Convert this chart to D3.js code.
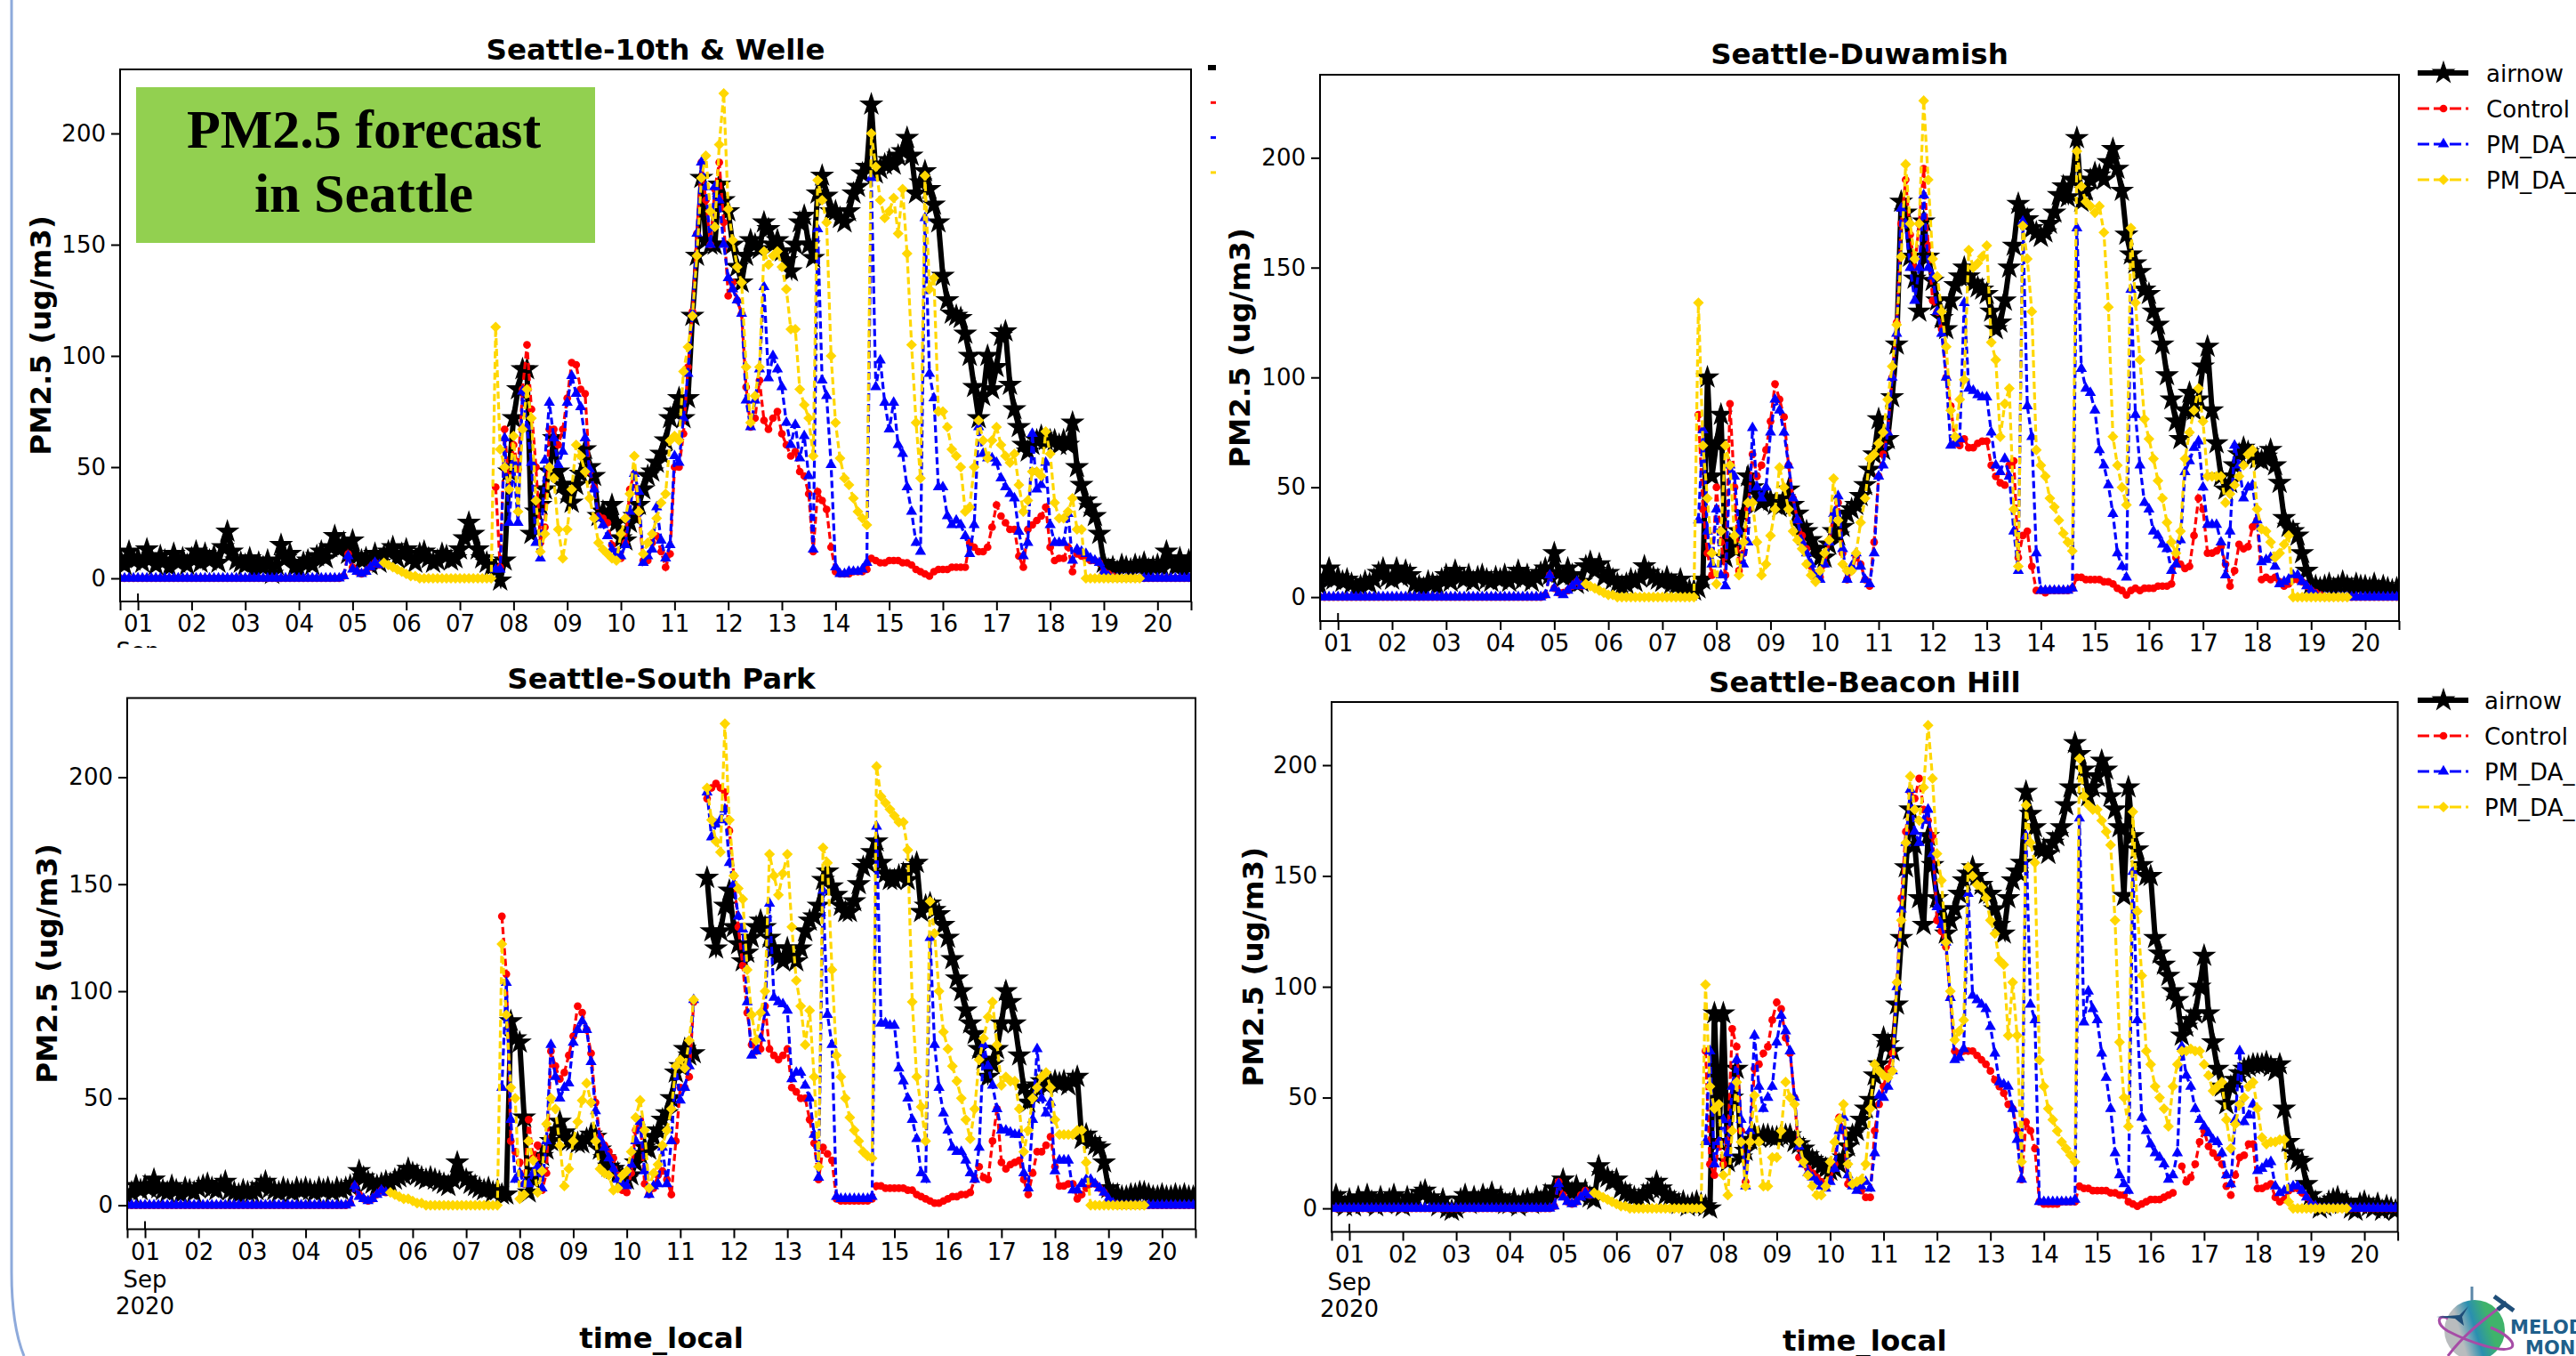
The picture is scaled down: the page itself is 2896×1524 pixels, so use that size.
<!DOCTYPE html>
<html>
<head>
<meta charset="utf-8">
<title>PM2.5 forecast in Seattle</title>
<script src="https://cdn.jsdelivr.net/npm/d3@7"></script>
<style>
  html,body{margin:0;padding:0;background:#fff;overflow:hidden;}
  svg{display:block;font-family:"DejaVu Sans",sans-serif;}
</style>
</head>
<body>
<svg id="chart" width="2896" height="1524"></svg>
<script>

// Values, one sample every 2 hours from Aug 31 16:00 local.
// Rows below are one day of 12 samples, starting at the day's 00:00.
var dayLabels = ["01","02","03","04","05","06","07","08","09","10","11","12","13","14","15","16","17","18","19","20"];
var yTicks    = [0,50,100,150,200];
var seriesNames = ["airnow","Control","PM_DA_","PM_DA_"];

var flatZero = [0,0,0,0,0,0,0,0,0,0, 0,0,0,0,0,0,0,0,0,0, 0,0,0,0,0,0,0,0,0,0, 0,0,0,0,0,0,0,0,0,0, 0,0,0,0,0,0,0,0,0,0];
var noRun    = [null,null,null,null,null, null,null,null,null,null, null,null,null,null,null, null,null,null,null,null, null,null,null,null,null];
var tailZero = [0,0,0,0,0,0,0,0,0, 0,0,0,0,0,0,0,0,0];
var yellowHead = [null,null,null,null,null,null,null,null,null,null, null,null,null,null,null,null,null,null,null,null, null,null,null,null,null,null,null,null,null,null, null,null,null,null,null,null,null,null,null,null, null,null,null,null,null,null,null,null,null,null, null,null,null,null,null,null,null,null,null];
var yellowEnd  = [0,0,0,0,0,0,0,0,0, null,null,null, null,null,null,null,null,null,null,null,null];

//......................... Seattle-10th & Welle ................................
var welleAirnow = [9,6,12,8,
  9,7,13,9,6,10,8,5,11,7,9,6,
  9,12,7,11,8,10,7,14,21,12,8,7,
  6,9,4,7,5,8,2,6,15,9,11,5,
  4,7,8,6,10,12,9,14,19,13,16,11,
  17,10,8,9,6,11,7,10,12,14,9,11,
  13,9,7,11,12,9,7,8,11,10,8,9,
  13,18,25,20,13,9,7,5,4,-1,8,48,
  72,85,94,94,20,30,33,40,48,63,48,42,
  38,34,42,47,58,50,46,28,30,27,33,25,
  18,17,25,28,33,40,46,48,52,56,62,72,
  75,81,72,81,118,145,180,152,150,150,177,170,
  165,150,140,133,145,152,150,148,160,157,150,152,
  147,143,138,150,160,163,150,144,173,181,172,165,
  165,162,160,165,173,176,182,185,213,182,184,186,
  188,186,190,192,198,190,173,178,183,175,168,160,
  136,125,119,118,117,110,100,86,72,82,100,85,
  95,109,111,87,76,68,60,57,60,62,64,62,
  62,62,60,62,60,70,50,42,35,32,28,20,
  7,4,5,3,6,5,4,6,5,7,4,5,
  6,5,12,7,5,9,4,8,6];
var welleControl = [].concat(flatZero,[1,11, 5,3,2,3,5,7,6],noRun,[41,5,67,40,
  60,49,85,105,76,50,16,23,67,67,60,67,
  81,97,96,85,83,48,41,28,27,25,15,12,
  9,16,40,47,30,8,8,16,19,12,5,11,
  50,50,65,95,120,155,187,170,150,175,187,160,
  127,133,125,119,86,68,72,89,71,67,72,75,
  65,60,55,57,48,46,38,12,39,35,31,14,
  3,2,2,2,3,3,3,4,9,8,7,7,
  8,8,8,7,7,6,4,3,2,1,3,4,
  4,4,5,5,5,5,16,14,12,12,14,23,
  33,28,25,22,22,10,5,22,24,26,28,32,
  14,8,9,9,14,3,11,10,9,8,8,7,
  3,2,1],tailZero);
var welleDaA = [].concat(flatZero,[1,10, 4,3,2,3,5,7,6],noRun,[4,4,63,25,
  52,25,84,68,52,16,9,53,79,63,51,57,
  79,91,83,77,63,49,40,27,24,19,13,11,
  10,15,30,47,39,7,10,13,32,17,9,15,
  55,52,72,92,119,155,187,176,150,176,170,150,
  135,130,125,119,80,68,80,94,131,90,100,94,
  86,70,60,69,54,64,46,13,157,89,82,51,
  5,2,2,3,3,3,4,7,180,86,98,79,
  67,79,60,56,41,30,16,12,162,92,81,41,
  41,28,24,26,24,19,11,24,68,56,54,54,
  52,45,41,38,36,21,10,16,65,40,42,52,
  24,16,16,16,29,8,13,12,11,9,8,7,
  3,1,0],tailZero);
var welleDaB = [].concat(yellowHead,[7,6,5,4,3,
  2,1,1,0,0,0,0,0,0,0,0,0,
  0,0,0,0,0,0,0,0,113,58,50,40,
  64,30,67,85,72,35,12,20,50,45,22,9,
  22,40,60,55,48,36,27,16,13,11,9,8,
  20,27,38,55,30,11,16,20,27,34,38,62,
  64,62,93,104,118,145,180,190,165,158,195,218,
  166,152,140,133,95,70,82,95,147,141,145,147,
  140,130,112,112,85,78,72,55,179,170,160,100,
  70,54,45,42,36,30,27,24,200,185,170,162,
  165,171,155,175,146,105,70,45,181,130,135,75,
  75,68,58,55,50,30,32,50,71,62,54,62,
  68,60,55,52,56,42,30,35,48,48,46,66,
  56,34,27,27,30,36,22,22,0,0,0,0],yellowEnd);

//......................... Seattle-Duwamish ....................................
var duwamishAirnow = [5,9,13,8,
  9,7,8,6,4,5,7,6,8,11,13,9,
  8,13,9,12,10,6,5,4,7,6,5,8,
  10,7,12,9,8,10,7,9,10,8,7,9,
  8,10,7,9,12,8,10,7,9,11,13,10,
  20,11,9,13,10,6,7,14,16,12,15,9,
  11,8,6,5,6,8,7,9,14,11,9,8,
  7,9,6,5,8,4,3,3,4,8,100,55,
  70,83,18,24,22,30,38,55,50,47,43,45,
  44,42,41,45,49,42,38,32,30,26,22,18,
  18,24,30,28,32,38,40,42,46,51,58,65,
  81,67,72,91,115,180,175,155,145,130,171,155,
  144,135,127,122,135,142,146,150,146,143,141,140,
  138,130,122,125,135,150,160,179,175,172,168,166,
  164,166,170,175,183,187,182,190,209,180,185,190,
  193,192,190,198,204,195,185,165,156,152,148,140,
  138,130,124,115,101,90,80,72,85,93,85,90,
  105,114,85,70,55,49,52,60,65,68,66,64,
  63,62,64,67,60,52,36,32,30,28,20,12,
  6,5,4,5,6,4,5,7,5,4,6,5,
  5,4,6,3,5,4,3,4,3];
var duwamishControl = [].concat(flatZero,[1,10, 4,2,2,3,5,7,5],noRun,[83,40,20,10,
  50,25,10,88,50,12,20,40,65,55,60,67,
  80,97,90,82,60,45,35,28,22,14,9,9,
  15,25,38,43,20,8,12,18,15,8,5,25,
  55,65,75,100,125,170,190,165,150,170,195,160,
  135,130,122,100,87,70,69,72,68,68,70,71,
  71,60,55,52,51,60,62,18,28,30,14,3,
  3,2,3,3,3,3,3,4,9,9,8,8,
  8,8,7,7,6,4,3,1,3,4,3,4,
  4,4,5,5,5,6,18,15,13,14,28,45,
  40,20,20,21,23,15,5,12,24,22,23,32,
  35,8,9,8,9,7,5,6,8,8,7,5,
  3,2,1],tailZero);
var duwamishDaA = [].concat(flatZero,[1,10, 4,2,1,3,5,7,5],noRun,[35,76,30,15,
  40,10,5,60,55,30,15,25,77,50,45,50,
  75,90,85,75,60,45,35,25,20,15,10,8,
  15,25,38,46,22,8,14,20,14,8,6,20,
  55,60,75,100,120,177,170,150,135,150,183,150,
  146,130,120,100,69,70,72,134,95,94,92,91,
  91,75,60,57,63,55,30,12,171,87,73,20,
  3,3,3,3,3,3,3,4,168,104,95,93,
  85,67,60,51,38,20,14,9,140,83,60,43,
  40,30,28,24,22,12,15,26,57,62,68,71,
  50,33,33,33,25,10,30,69,60,45,50,51,
  35,16,17,18,14,6,7,8,10,10,7,5,
  3,1,0],tailZero);
var duwamishDaB = [].concat(yellowHead,[6,5,4,3,2,
  1,1,0,0,0,0,0,0,0,0,0,0,
  0,0,0,0,0,0,0,0,134,69,45,20,
  6,30,69,60,28,10,25,43,43,25,10,15,
  28,40,59,50,40,30,26,22,15,10,7,12,
  20,26,54,35,15,12,12,20,34,45,63,65,
  70,75,90,105,124,155,197,170,154,170,226,190,
  154,146,130,114,85,73,90,99,158,150,152,155,
  160,116,108,73,88,95,40,14,169,154,130,67,
  60,55,45,41,35,29,25,21,203,187,180,178,
  175,178,166,132,73,60,50,42,168,134,108,81,
  72,63,53,45,34,25,20,30,63,75,85,95,
  80,55,55,55,55,43,47,51,55,60,65,67,
  40,31,30,25,18,20,24,28,0,0,0,0],yellowEnd);

//......................... Seattle-South Park ..................................
var southParkAirnow = [4,6,9,7,
  9,8,12,8,7,6,9,7,5,8,7,6,
  8,9,10,8,7,9,11,7,6,5,7,6,
  6,7,9,11,8,7,6,8,7,6,8,7,
  8,7,6,8,7,8,6,8,7,8,9,10,
  16,13,11,10,9,10,11,10,12,13,14,17,
  15,14,13,12,13,12,11,10,9,12,20,14,
  12,10,9,8,7,8,6,7,5,5,86,78,
  76,41,6,12,16,23,26,30,35,39,34,30,
  30,29,29,31,33,32,26,22,18,17,15,13,
  12,14,20,24,27,26,32,35,40,43,50,62,
  65,73,70,71,null,null,153,128,120,128,140,147,
  130,122,114,118,125,130,133,130,125,120,116,114,
  120,116,114,120,128,133,135,140,152,156,149,145,
  140,137,137,142,150,158,160,165,170,160,155,152,
  152,154,155,152,158,160,137,140,141,138,136,131,
  125,115,106,100,91,85,80,73,68,60,66,73,
  85,100,95,85,70,55,48,52,56,58,56,57,
  58,57,58,56,58,60,31,33,30,28,27,20,
  8,5,5,4,4,5,5,6,6,5,4,4,
  5,4,4,5,4,5,4,4,4];
var southParkControl = [].concat(flatZero,[1,9, 5,3,2,3,5,7,6],noRun,[135,108,30,25,
  20,10,40,22,28,7,15,72,65,59,62,70,
  79,93,90,82,71,48,32,28,25,22,14,7,
  6,15,35,40,10,5,8,14,16,12,5,30,
  55,55,60,95,null,null,190,195,197,195,193,175,
  154,130,112,90,75,72,73,93,73,70,68,70,
  73,55,53,50,50,40,29,12,27,24,21,3,
  2,2,2,2,2,2,2,3,9,9,8,8,
  8,8,8,7,7,5,4,3,2,1,1,2,
  3,4,4,5,5,6,12,18,13,12,30,45,
  20,17,19,20,21,12,5,15,25,25,28,32,
  18,9,9,10,10,3,5,8,10,10,8,6,
  2,1,0],tailZero);
var southParkDaA = [].concat(flatZero,[1,9, 4,3,2,3,5,7,6],noRun,[55,104,40,12,
  15,10,10,15,18,8,30,75,60,50,55,57,
  76,82,86,82,67,44,31,27,22,17,12,10,
  9,19,30,39,16,5,9,10,27,10,30,65,
  49,55,65,96,null,null,193,172,178,180,185,160,
  150,135,129,95,70,72,78,90,141,97,95,94,
  91,59,62,62,56,50,33,13,147,89,75,4,
  3,3,3,3,3,3,3,4,177,85,85,84,
  84,64,58,50,40,31,15,12,125,75,55,43,
  35,27,25,25,21,15,12,27,75,65,56,45,
  35,35,34,33,33,15,8,40,73,50,43,48,
  16,21,21,21,7,7,10,12,12,10,8,6,
  3,1,0],tailZero);
var southParkDaB = [].concat(yellowHead,[6,5,4,3,3,
  2,1,1,0,0,0,0,0,0,0,0,0,
  0,0,0,0,0,0,0,0,122,89,55,50,
  3,5,30,21,6,16,38,50,45,28,9,17,
  30,39,49,57,48,30,17,15,14,7,8,14,
  16,25,41,49,35,8,15,19,28,35,45,65,
  68,64,77,96,null,null,195,180,170,165,225,180,
  154,148,143,110,89,77,90,100,164,154,145,155,
  164,130,105,93,75,91,60,18,167,160,110,70,
  60,50,41,35,30,25,23,22,205,191,188,185,
  182,179,179,166,95,60,46,30,142,127,100,81,
  73,65,58,50,40,31,45,68,78,88,95,75,
  56,60,58,58,45,25,35,50,55,60,62,55,
  40,33,33,33,33,35,35,20,0,0,0,0],yellowEnd);

//......................... Seattle-Beacon Hill .................................
var beaconAirnow = [2,6,3,1,
  4,1,5,2,6,3,1,5,2,4,6,2,
  1,5,3,4,7,8,5,3,1,4,0,-1,
  0,4,6,2,5,3,6,4,7,3,5,2,
  2,4,1,3,4,2,5,3,6,4,9,8,
  13,9,7,10,6,8,5,4,19,15,14,12,
  13,9,7,6,5,4,6,7,9,12,9,6,
  5,3,2,3,1,2,3,2,1,0,88,30,
  88,21,50,63,23,26,31,33,32,33,33,32,
  32,33,33,33,30,29,27,24,22,21,19,18,
  17,18,20,23,28,33,35,40,45,49,60,65,
  77,74,71,92,122,154,180,164,140,128,168,155,
  140,135,124,130,135,142,148,151,154,150,146,142,
  142,135,128,124,140,148,152,156,188,178,172,162,
  162,160,165,168,172,182,190,210,205,198,186,190,
  195,202,198,186,180,172,141,190,168,162,155,150,
  150,122,115,110,105,98,94,78,82,85,88,100,
  114,88,75,63,55,47,55,58,61,63,64,65,
  65,65,66,64,62,65,45,30,25,22,21,11,
  6,3,0,1,3,4,5,2,3,0,-1,2,
  3,1,0,2,-1,1,0,-1,1];
var beaconControl = [].concat(flatZero,[1,12, 6,3,2,3,6,8,6],noRun,[71,20,15,30,
  20,30,81,73,35,12,30,63,65,70,73,85,
  93,90,77,70,50,23,20,18,16,14,12,10,
  13,20,41,35,11,11,10,8,5,5,35,47,
  55,63,70,102,140,170,188,185,194,180,175,168,
  130,125,118,95,71,70,71,71,71,69,67,65,
  62,58,55,52,47,45,35,13,39,35,27,3,
  2,2,2,2,3,3,3,3,10,9,9,8,
  8,8,8,7,7,6,6,3,2,1,2,3,
  4,4,4,5,6,7,null,19,12,14,20,30,
  35,28,25,23,20,10,6,15,23,24,29,29,
  9,9,10,11,5,3,4,8,9,9,7,5,
  2,1,0],tailZero);
var beaconDaA = [].concat(flatZero,[1,11, 5,3,2,3,5,7,6],noRun,[30,71,20,30,
  40,25,55,67,40,10,35,78,55,45,50,55,
  75,87,80,71,50,28,20,16,14,12,10,9,
  12,18,35,41,15,10,8,10,12,9,25,51,
  50,55,62,100,135,165,189,170,165,175,180,160,
  136,128,120,95,67,68,72,142,96,94,92,90,
  82,70,57,56,55,45,31,13,168,92,85,3,
  3,3,3,3,3,3,3,4,176,84,98,90,
  85,70,59,45,25,15,11,8,152,85,41,35,
  29,25,23,20,13,15,25,73,60,55,45,40,
  37,34,31,30,25,15,11,40,71,39,42,47,
  17,18,20,21,10,7,8,9,10,10,8,5,
  2,1,0],tailZero);
var beaconDaB = [].concat(yellowHead,[7,6,5,4,3,
  2,1,1,0,0,0,0,0,0,0,0,0,
  0,0,0,0,0,0,0,0,101,55,45,47,
  15,6,35,57,30,10,30,51,30,10,10,23,
  23,35,57,50,47,30,21,15,10,6,6,10,
  21,30,40,47,20,11,12,13,20,45,65,62,
  60,59,62,102,130,165,195,180,175,190,218,194,
  160,148,120,98,76,80,85,154,150,146,145,140,
  130,124,112,110,78,102,78,21,182,165,156,67,
  55,45,40,35,30,27,24,21,203,186,182,180,
  180,175,170,164,130,75,50,37,179,134,105,71,
  65,55,50,45,37,55,65,71,71,72,71,71,
  65,60,53,55,57,40,27,38,47,50,55,57,
  45,32,29,30,30,31,31,3,0,0,0,0],yellowEnd);

var sampleHours = d3.range(-8,473,2);    // hours from Sep 1 00:00 local

var panels = [
  {title:"Seattle-10th & Welle", left:135,  right:1339, top:78,  bottom:676,  yMin:-10.4, yMax:228.8,
   titleY:56, ylabelX:46, values:[welleAirnow,welleControl,welleDaA,welleDaB]},
  {title:"Seattle-Duwamish",     left:1484, right:2697, top:84,  bottom:698,  yMin:-10.9, yMax:237.8,
   titleY:61, ylabelX:1394, values:[duwamishAirnow,duwamishControl,duwamishDaA,duwamishDaB],
   legendY:82, legendX:2718, legendTextX:2795},
  {title:"Seattle-South Park",   left:143,  right:1344, top:784.5, bottom:1381.5, yMin:-11.2, yMax:237,
   titleY:763, ylabelX:53, values:[southParkAirnow,southParkControl,southParkDaA,southParkDaB],
   dateLabel:true, xlabel:true},
  {title:"Seattle-Beacon Hill",  left:1497, right:2695.6, top:789, bottom:1384.5, yMin:-10.6, yMax:228.5,
   titleY:767, ylabelX:1409, values:[beaconAirnow,beaconControl,beaconDaA,beaconDaB],
   dateLabel:true, xlabel:true, legendY:787, legendX:2718, legendTextX:2793}
];

var seriesStyle = [
  {color:"#000000", width:6,   dash:null,  symbol:d3.symbolStar,     size:230},
  {color:"#ff0000", width:3.2, dash:"8,4", symbol:d3.symbolCircle,   size:60},
  {color:"#0000ff", width:3.2, dash:"8,4", symbol:d3.symbolTriangle, size:68},
  {color:"#ffd700", width:3.2, dash:"8,4", symbol:d3.symbolDiamond2, size:95}
];

var svg = d3.select("#chart");
svg.append("rect").attr("width",2896).attr("height",1524).attr("fill","#fff");

// slide frame on the left edge
svg.append("path")
  .attr("d","M13,0 V1430 Q13,1490 27,1524")
  .attr("fill","none")
  .attr("stroke","#8eaadb")
  .attr("stroke-width",3);

panels.forEach(plotPanel);
plotExtras();


function plotPanel(p,ip){
  var x = d3.scaleLinear().domain([0.667,20.625]).range([p.left,p.right]);
  var y = d3.scaleLinear().domain([p.yMin,p.yMax]).range([p.bottom,p.top]);

  var g = svg.append("g").attr("class","panel");

  var clipId = "clip"+ip;
  g.append("clipPath").attr("id",clipId).append("rect")
    .attr("x",p.left).attr("y",p.top)
    .attr("width",p.right-p.left).attr("height",p.bottom-p.top);

  var plotArea = g.append("g").attr("clip-path","url(#"+clipId+")");

  p.values.forEach(function(values,iv){
    var st = seriesStyle[iv];
    var pts = values.map(function(v,i){return {day:1+sampleHours[i]/24,v:v};});

    var line = d3.line()
      .defined(function(d){return d.v !== null;})
      .x(function(d){return x(d.day);})
      .y(function(d){return y(d.v);});

    var group = plotArea.append("g").attr("class","series-"+iv);
    group.append("path")
      .attr("d",line(pts))
      .attr("fill","none")
      .attr("stroke",st.color)
      .attr("stroke-width",st.width)
      .attr("stroke-dasharray",st.dash);

    group.selectAll("path.mark")
      .data(pts.filter(function(d){return d.v !== null;}))
      .enter()
      .append("path")
      .attr("class","mark")
      .attr("d",d3.symbol().type(st.symbol).size(st.size))
      .attr("fill",st.color)
      .attr("transform",function(d){return "translate("+x(d.day)+","+y(d.v)+")";});
  });

  // spines
  g.append("rect")
    .attr("x",p.left).attr("y",p.top)
    .attr("width",p.right-p.left).attr("height",p.bottom-p.top)
    .attr("fill","none").attr("stroke","#000").attr("stroke-width",2);

  // axes, the two extra unlabeled ticks sit on the axes corners
  var xTickValues = [x.domain()[0]].concat(d3.range(1,21),[x.domain()[1]]);
  var xAxis = d3.axisBottom(x)
    .tickValues(xTickValues)
    .tickSize(10)
    .tickPadding(6)
    .tickFormat(function(d){return d>=1 && d<=20 ? dayLabels[d-1] : "";});
  var gx = g.append("g").attr("transform","translate(0,"+p.bottom+")").call(xAxis);

  var yAxis = d3.axisLeft(y).tickValues(yTicks).tickSize(10).tickPadding(6);
  var gy = g.append("g").attr("transform","translate("+p.left+",0)").call(yAxis);

  [gx,gy].forEach(function(a){
    a.select(".domain").remove();
    a.selectAll("line").attr("stroke","#000").attr("stroke-width",2);
    a.selectAll("text").attr("fill","#000").style("font-size","26px").style("font-family","'DejaVu Sans'");
  });

  // first date tick also pokes up into the plot
  g.append("line")
    .attr("x1",x(1)).attr("x2",x(1))
    .attr("y1",p.bottom-9).attr("y2",p.bottom)
    .attr("stroke","#000").attr("stroke-width",2);

  g.append("text")
    .attr("x",(p.left+p.right)/2).attr("y",p.titleY)
    .attr("text-anchor","middle").attr("dominant-baseline","central")
    .style("font-size","32.5px").style("font-weight","bold")
    .text(p.title);

  g.append("text")
    .attr("transform","translate("+p.ylabelX+","+(p.top+p.bottom)/2+") rotate(-90)")
    .attr("text-anchor","middle").attr("dominant-baseline","central")
    .style("font-size","32.5px").style("font-weight","bold")
    .text("PM2.5 (ug/m3)");

  if (p.dateLabel){
    ["Sep","2020"].forEach(function(t,i){
      g.append("text")
        .attr("x",x(1)).attr("y",p.bottom+56+i*30)
        .attr("text-anchor","middle").attr("dominant-baseline","central")
        .style("font-size","26px")
        .text(t);
    });
  }
  if (p.xlabel){
    g.append("text")
      .attr("x",(p.left+p.right)/2).attr("y",p.bottom+122)
      .attr("text-anchor","middle").attr("dominant-baseline","central")
      .style("font-size","32.5px").style("font-weight","bold")
      .text("time_local");
  }
  if (p.legendY){
    plotLegend(g,p);
  }
}


function plotLegend(g,p){
  var rowGap = 40;
  seriesNames.forEach(function(name,i){
    var st = seriesStyle[i];
    var ly = p.legendY+i*rowGap;
    g.append("line")
      .attr("x1",p.legendX).attr("x2",p.legendX+57)
      .attr("y1",ly).attr("y2",ly)
      .attr("stroke",st.color)
      .attr("stroke-width",i==0 ? 6 : 3)
      .attr("stroke-dasharray",st.dash ? "13,5" : null);
    g.append("path")
      .attr("d",d3.symbol().type(st.symbol).size(st.size))
      .attr("fill",st.color)
      .attr("transform","translate("+(p.legendX+29)+","+ly+")");
    g.append("text")
      .attr("x",p.legendTextX).attr("y",ly+1)
      .attr("dominant-baseline","central")
      .style("font-size","26px")
      .text(name);
  });
}


function plotExtras(){
  // green note on the first panel
  svg.append("rect")
    .attr("x",153).attr("y",98).attr("width",516).attr("height",175)
    .attr("fill","#92d050");
  ["PM2.5 forecast","in Seattle"].forEach(function(t,i){
    svg.append("text")
      .attr("x",409).attr("y",166+i*72)
      .attr("text-anchor","middle")
      .style("font-family","'Liberation Serif',serif")
      .style("font-weight","bold")
      .style("font-size","62px")
      .attr("fill","#000")
      .text(t);
  });

  // clipped remains of the first panel's legend and date label
  svg.append("clipPath").attr("id","clipSep").append("rect")
    .attr("x",100).attr("y",700).attr("width",120).attr("height",28);
  svg.append("text")
    .attr("clip-path","url(#clipSep)")
    .attr("x",155).attr("y",732)
    .attr("text-anchor","middle").attr("dominant-baseline","central")
    .style("font-size","26px")
    .text("Sep");
  svg.selectAll("line.stub")
    .data(seriesStyle)
    .enter().append("line")
    .attr("class","stub")
    .attr("x1",function(d,i){return i==0 ? 1358 : 1361;})
    .attr("x2",1367)
    .attr("y1",function(d,i){return 76+i*39.3;})
    .attr("y2",function(d,i){return 76+i*39.3;})
    .attr("stroke",function(d){return d.color;})
    .attr("stroke-width",function(d,i){return i==0 ? 6 : 3;});

  // MELODIES MONET logo corner
  var logo = svg.append("g");
  var grad = svg.append("linearGradient").attr("id","globeFill")
    .attr("x1","0").attr("x2","1").attr("y1","0.6").attr("y2","0.3");
  grad.append("stop").attr("offset","0.25").attr("stop-color","#b9bcbe");
  grad.append("stop").attr("offset","0.5").attr("stop-color","#2a8fb0");
  grad.append("stop").attr("offset","0.75").attr("stop-color","#3fb36b");

  logo.append("line").attr("x1",2779).attr("x2",2779).attr("y1",1446).attr("y2",1472)
    .attr("stroke","#5b87a8").attr("stroke-width",3);
  logo.append("circle").attr("cx",2782).attr("cy",1495).attr("r",34).attr("fill","url(#globeFill)");
  logo.append("path")
    .attr("d","M2752,1482 C2740,1476 2738,1488 2752,1496 C2775,1508 2815,1522 2824,1514 C2828,1508 2815,1498 2800,1492")
    .attr("fill","none").attr("stroke","#a64ca6").attr("stroke-width",3);
  logo.append("path")
    .attr("d","M2752,1524 C2770,1500 2790,1485 2812,1468")
    .attr("fill","none").attr("stroke","#a64ca6").attr("stroke-width",3);
  logo.append("path")
    .attr("d","M2739,1480 L2765,1478 L2775,1468 L2768,1480 L2770,1490 L2760,1482 Z")
    .attr("fill","#1f4e79");
  logo.append("path")
    .attr("d","M2804,1457 L2826,1473 M2808,1472 L2818,1464")
    .attr("stroke","#1f4e79").attr("stroke-width",5).attr("fill","none");
  logo.append("text").attr("x",2822).attr("y",1499)
    .style("font-size","21px").style("font-weight","bold").attr("fill","#1f5f8b")
    .text("MELOD");
  logo.append("text").attr("x",2839).attr("y",1522)
    .style("font-size","21px").style("font-weight","bold").attr("fill","#1f5f8b")
    .text("MON");
}

</script>
</body>
</html>
